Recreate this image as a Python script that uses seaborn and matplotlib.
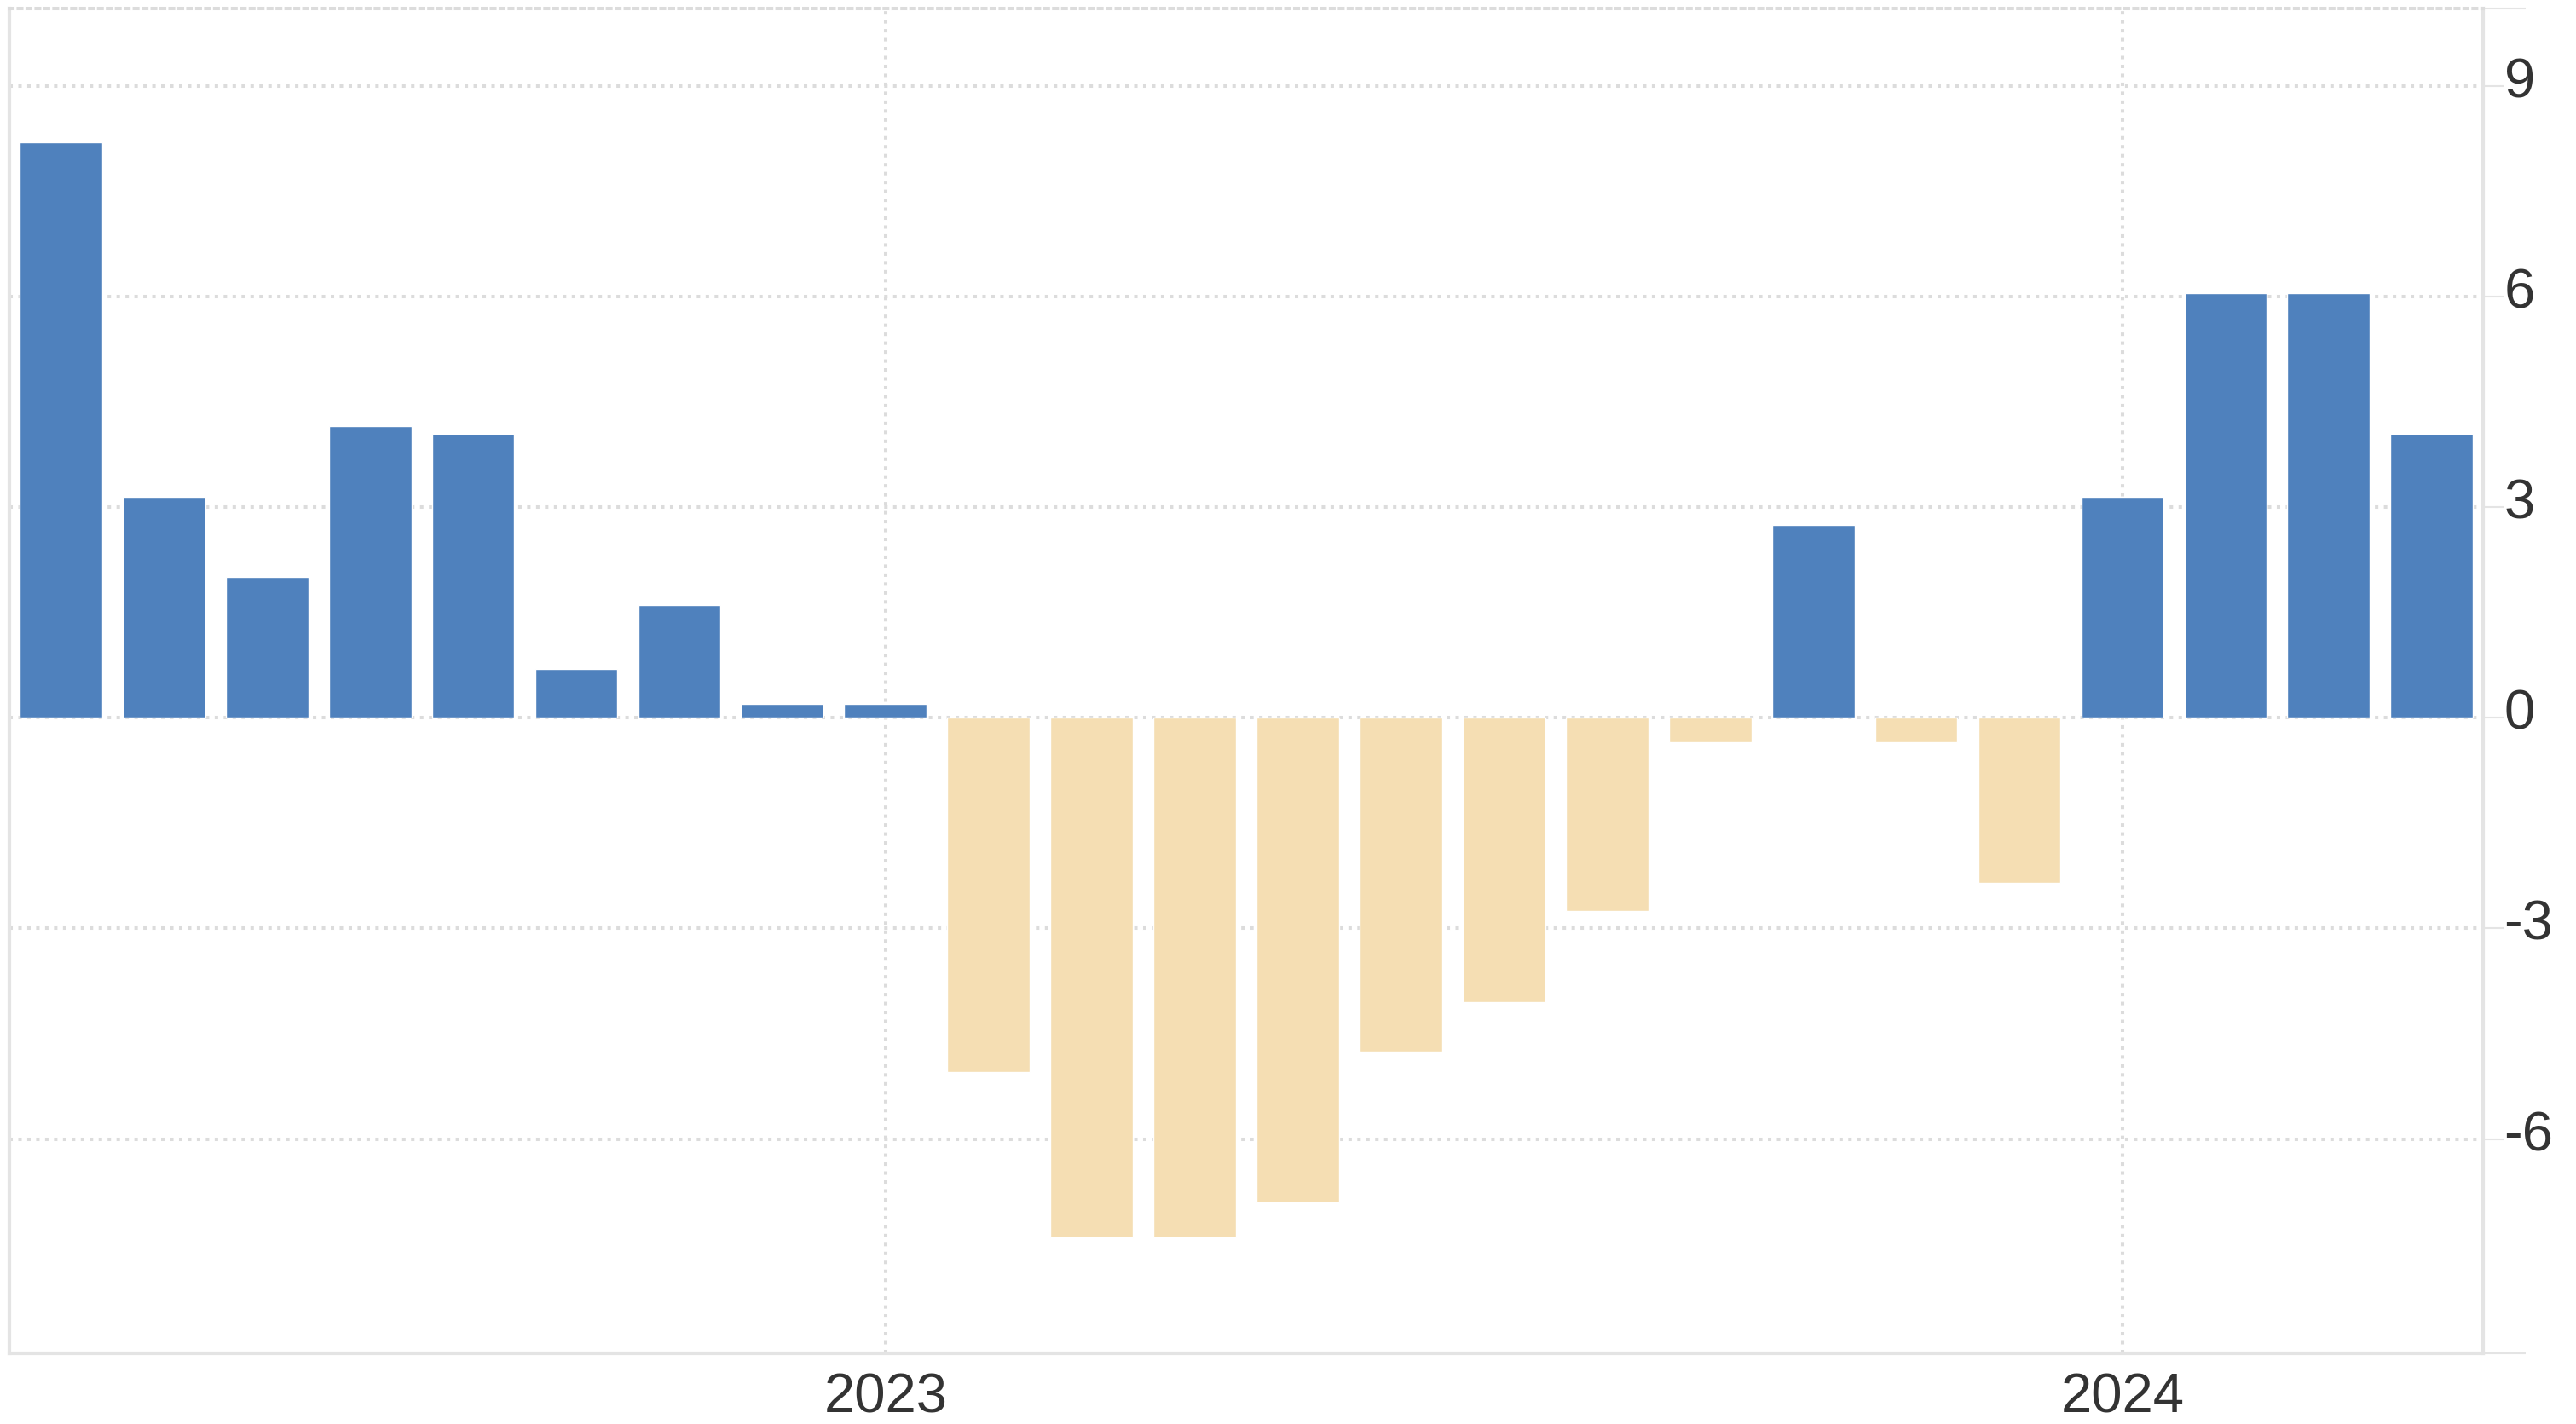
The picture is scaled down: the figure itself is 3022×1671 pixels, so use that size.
import numpy as np
import matplotlib
matplotlib.use("Agg")
import matplotlib.pyplot as plt
import matplotlib.transforms as mtransforms
import pandas as pd
import seaborn as sns

# monthly values, May 2022 .. Apr 2024
months = pd.date_range("2022-05-01", "2024-04-01", freq="MS").strftime("%Y-%m").tolist()
values = [8.2, 3.15, 2.0, 4.15, 4.05, 0.7, 1.6, 0.2, 0.2,
          -5.05, -7.4, -7.4, -6.9, -4.75, -4.05, -2.75, -0.35,
          2.75, -0.35, -2.35, 3.15, 6.05, 6.05, 4.05]
year_ticks = ["2023-01", "2024-01"]
year_labels = ["2023", "2024"]
y_ticks = [-6, -3, 0, 3, 6, 9]

blue, beige = "#4f81bd", "#f5deb3"
grid_c, spine_c, text_c = "#dcdcdc", "#e4e4e4", "#333333"

df = pd.DataFrame({"month": months, "value": values})
df["sign"] = np.where(df["value"] >= 0, "pos", "neg")

sns.set_style("white")
plt.rcParams["font.family"] = ["Liberation Sans", "DejaVu Sans"]

f = plt.figure(figsize=(30.22, 16.71), dpi=100)
ax = f.add_axes([0.0036, 0.0497, 0.9604, 0.9443])

sns.barplot(data=df, x="month", y="value", hue="sign", palette={"pos": blue, "neg": beige},
            dodge=False, width=0.8, legend=False, saturation=1, ax=ax, zorder=3)

ax.set_xlim(-0.5, 23.5)
ax.set_ylim(-9.05, 10.1)
ax.set_xlabel("")
ax.set_ylabel("")

ax.set_xticks([months.index(m) for m in year_ticks])
ax.set_xticklabels(year_labels)
ax.set_yticks(y_ticks)
ax.set_yticklabels([str(t) for t in y_ticks])
ax.set_yticks([-9.05, 10.1], minor=True)

ax.yaxis.tick_right()
ax.tick_params(axis="x", length=0, pad=16, labelsize=47, labelcolor=text_c)
ax.tick_params(axis="y", which="major", length=18, width=1.5, color=spine_c, pad=1,
               labelsize=47, labelcolor=text_c)
ax.tick_params(axis="y", which="minor", length=36, width=1.5, color=spine_c)

# y labels sit a little above their gridlines in the original
shift = mtransforms.ScaledTranslation(-2 / 100, 10 / 100, f.dpi_scale_trans)
for lab in ax.get_yticklabels():
    lab.set_transform(lab.get_transform() + shift)

ax.grid(True, axis="both", which="major", color=grid_c, linestyle=(0, (1, 1.6)), linewidth=2.9, zorder=0)
ax.set_axisbelow(True)

for s in ["left", "right", "bottom"]:
    ax.spines[s].set_visible(True)
    ax.spines[s].set_color(spine_c)
    ax.spines[s].set_linewidth(3)
ax.spines["top"].set_color(grid_c)
ax.spines["top"].set_linestyle((0, (1, 1.6)))
ax.spines["top"].set_linewidth(2.9)

f.savefig("out.png", dpi=100, facecolor="white")
